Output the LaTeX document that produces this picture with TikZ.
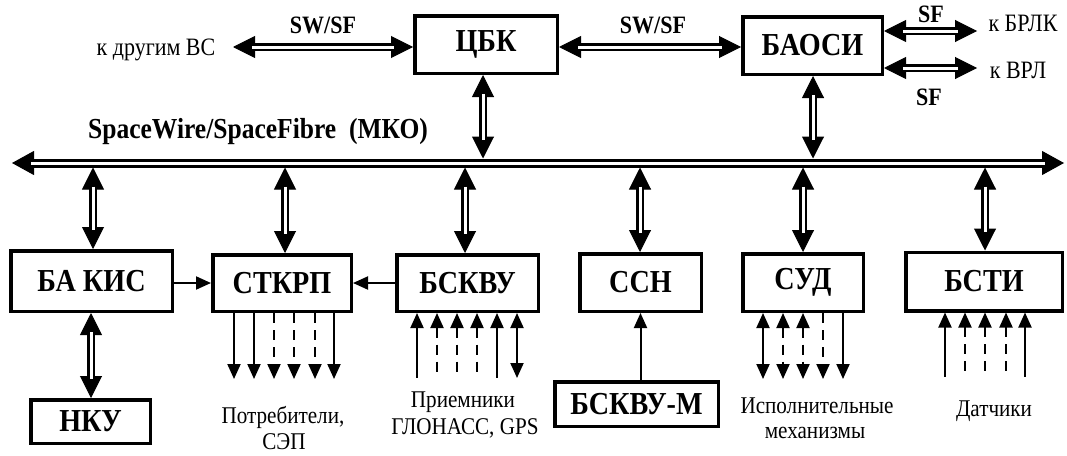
\documentclass[tikz,border=0pt]{standalone}
\usepackage{fontspec}
\setmainfont{Liberation Serif}[FakeStretch=0.88]
\usetikzlibrary{arrows.meta,calc}
\newcommand{\dblarr}[3][]{%
  \draw[line width=1pt,{Triangle[length=22pt,width=22pt]}-{Triangle[length=22pt,width=22pt]},#1] #2 -- #3;
  \draw[line width=2.2pt,double,double distance=3pt,shorten <=19pt,shorten >=19pt,#1] #2 -- #3;}
\tikzset{
  box/.style={draw,line width=3.5pt,inner sep=0pt,font=\bfseries\fontsize{32}{32}\selectfont},
  lbl/.style={inner sep=0pt,anchor=base,font=\fontsize{24}{24}\selectfont},
  blbl/.style={inner sep=0pt,anchor=base,font=\bfseries\fontsize{25}{25}\selectfont},
  sol/.style={line width=2pt},
  dsh/.style={line width=2pt,dash pattern=on 10pt off 7pt},
  dn/.style={-{Triangle[length=15pt,width=13pt]}},
  up/.style={{Triangle[length=15pt,width=13pt]}-},
  bo/.style={{Triangle[length=15pt,width=13pt]}-{Triangle[length=15pt,width=13pt]}},
}
\begin{document}
\begin{tikzpicture}[x=1pt,y=-1pt]
\useasboundingbox (0,0) rectangle (1067,455);
% top boxes
\node[box,minimum width=142.5pt,minimum height=57.5pt] (cbk) at (486,44.5) {ЦБК};
\node[box,minimum width=139.5pt,minimum height=57.5pt] (baosi) at (812.5,45.5) {БАОСИ};
% lower boxes
\node[box,minimum width=161.5pt,minimum height=60.5pt] (bakis) at (91.5,281) {БА КИС};
\node[box,minimum width=138.5pt,minimum height=56.5pt] (stkrp) at (282,283) {СТКРП};
\node[box,minimum width=141.5pt,minimum height=56.5pt] (bskvu) at (467.5,283) {БСКВУ};
\node[box,minimum width=121.5pt,minimum height=57.5pt] (ssn) at (640.5,282.5) {ССН};
\node[box,minimum width=120.5pt,minimum height=57.5pt] (sud) at (803,282.5) {СУД};
\node[box,minimum width=156.5pt,minimum height=58.5pt] (bsti) at (984,281.5) {БСТИ};
\node[box,minimum width=119.5pt,minimum height=43.5pt] (nku) at (90.5,421.5) {НКУ};
\node[box,minimum width=163.5pt,minimum height=44.5pt] (bskvum) at (636.5,404) {БСКВУ-М};
% labels
\node[lbl,font=\fontsize{25}{25}\selectfont] (kvs) at (156,55) {к другим ВС};
\node[blbl] (sw1) at (323,33) {SW/SF};
\node[blbl] (sw2) at (653,33) {SW/SF};
\node[blbl] (sf1) at (931,22) {SF};
\node[blbl] (sf2) at (929,105) {SF};
\node[lbl,font=\fontsize{25}{25}\selectfont] (brlk) at (1023,31) {к БРЛК};
\node[lbl,font=\fontsize{25}{25}\selectfont] (vrl) at (1018,78) {к ВРЛ};
\node[blbl,font=\bfseries\fontsize{29}{29}\selectfont] (spw) at (258,138) {SpaceWire/SpaceFibre~~(МКО)};
\node[lbl] (potr) at (283,423) {Потребители,};
\node[lbl] (sep) at (284,449) {СЭП};
\node[lbl] (prm) at (463,407) {Приемники};
\node[lbl] (glo) at (465,434) {ГЛОНАСС, GPS};
\node[lbl] (isp) at (817,413) {Исполнительные};
\node[lbl] (mex) at (815,438) {механизмы};
\node[lbl] (dat) at (994,416) {Датчики};
% coordinates
\coordinate (kvsend) at (233,47);
\coordinate (brlkend) at (977,31);
\coordinate (vrlend) at (977,68);
\coordinate (busL) at (12,163);
\coordinate (busR) at (1064,163);
\coordinate (bt1) at (483,158.5);
\coordinate (bt2) at (813,158.5);
\coordinate (bb1) at (93,167.5);
\coordinate (bb2) at (285,167.5);
\coordinate (bb3) at (465,167.5);
\coordinate (bb4) at (640,167.5);
\coordinate (bb5) at (803,167.5);
\coordinate (bb6) at (985,167.5);
% bus
\draw[line width=1pt,{Triangle[length=22pt,width=24pt]}-{Triangle[length=22pt,width=24pt]}] (busL) -- (busR);
\draw[line width=3pt,double,double distance=3pt,shorten <=19pt,shorten >=19pt] (busL) -- (busR);
% top double arrows
\dblarr{(kvsend)}{(cbk.west |- kvsend)}
\dblarr{(cbk.east |- 0,47)}{(baosi.west |- 0,47)}
\dblarr{(baosi.east |- brlkend)}{(brlkend)}
\dblarr{(baosi.east |- vrlend)}{(vrlend)}
\dblarr{(cbk.south -| bt1)}{(bt1)}
\dblarr{(baosi.south -| bt2)}{(bt2)}
% bus to lower boxes
\dblarr{(bb1)}{(bakis.north -| bb1)}
\dblarr{(bb2)}{(stkrp.north -| bb2)}
\dblarr{(bb3)}{(bskvu.north -| bb3)}
\dblarr{(bb4)}{(ssn.north -| bb4)}
\dblarr{(bb5)}{(sud.north -| bb5)}
\dblarr{(bb6)}{(bsti.north -| bb6)}
\dblarr{(bakis.south -| 91,0)}{(nku.north -| 91,0)}
% single arrows
\draw[sol,dn] (bakis.east |- stkrp.west) -- (stkrp.west);
\draw[sol,dn] (bskvu.west) -- (stkrp.east);
\draw[sol,dn] (bskvum.north -| ssn.south) -- (ssn.south);
% bundles
\foreach \x/\s/\a [count=\i] in {234/sol/dn,254/sol/dn,274/dsh/dn,294/dsh/dn,315/dsh/dn,334/sol/dn}{
  \coordinate (p\i) at (\x,379);
  \draw[\s,\a] (stkrp.south -| p\i) -- (p\i);}
\foreach \x/\s/\a [count=\i] in {417/sol/up,437/dsh/up,457/dsh/up,477/dsh/up,497/sol/up,517/sol/bo}{
  \coordinate (q\i) at (\x,378);
  \draw[\s,\a] (bskvu.south -| q\i) -- (q\i);}
\foreach \x/\s/\a [count=\i] in {763/sol/bo,783/dsh/bo,803/dsh/bo,823/dsh/dn,843/sol/dn}{
  \coordinate (r\i) at (\x,379);
  \draw[\s,\a] (sud.south -| r\i) -- (r\i);}
\foreach \x/\s/\a [count=\i] in {945/sol/up,965/dsh/up,985/dsh/up,1006/dsh/up,1025/sol/up}{
  \coordinate (t\i) at (\x,377);
  \draw[\s,\a] (bsti.south -| t\i) -- (t\i);}
\end{tikzpicture}
\end{document}
